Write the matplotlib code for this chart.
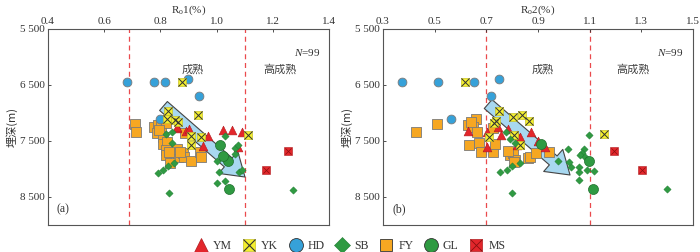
import matplotlib
matplotlib.use("Agg")
import matplotlib.pyplot as plt
from matplotlib.lines import Line2D
from matplotlib.patches import FancyArrowPatch
from matplotlib.legend_handler import HandlerTuple
from matplotlib.ticker import FuncFormatter

plt.rcParams['font.family'] = ['Liberation Serif', 'Noto Sans CJK SC', 'DejaVu Sans']
plt.rcParams['mathtext.fontset'] = 'custom'
plt.rcParams['mathtext.rm'] = 'Liberation Serif'
plt.rcParams['mathtext.it'] = 'Liberation Serif:italic'

# ---------------- data: panel (a) Ro1 ----------------
YM_a_x = [0.858, 0.89, 0.90, 0.97, 0.952, 1.023, 1.055, 1.09, 1.077, 0.86]
YM_a_y = [7270, 7320, 7290, 7410, 7590, 7310, 7300, 7340, 7610, 7250]
YK_a_x = [0.876, 0.934, 0.827, 0.823, 0.852, 0.863, 0.909, 0.944, 0.909, 1.112]
YK_a_y = [6450, 7030, 6960, 7110, 7125, 7160, 7410, 7430, 7570, 7390]
HD_a_x = [0.681, 0.777, 0.816, 0.898, 0.938, 0.80]
HD_a_y = [6450, 6450, 6450, 6390, 6700, 7110]
SB_a_x = [1.03, 0.82, 0.841, 0.841, 1.012, 1.023, 1.001, 1.066, 1.066, 1.077, 1.08, 1.09,
          0.848, 0.827, 0.809, 0.791, 1.008, 1.001, 1.03, 0.831, 1.272]
SB_a_y = [7410, 7375, 7340, 7536, 7554, 7786, 7857, 7625, 7732, 7571, 8054, 8018,
          7893, 7946, 8018, 8071, 8060, 8250, 8214, 8429, 8370]
FY_a_x = [0.71, 0.713, 0.777, 0.79, 0.802, 0.82, 0.788, 0.809, 0.81, 0.823, 0.82, 0.82,
          0.848, 0.863, 0.881, 0.884, 0.908, 0.94, 0.944, 0.887, 0.834, 0.86, 0.795, 0.83, 0.87]
FY_a_y = [7196, 7339, 7250, 7210, 7232, 7180, 7357, 7429, 7554, 7518, 7661, 7750,
          7696, 7786, 7714, 7786, 7857, 7696, 7786, 7357, 7893, 7650, 7300, 7690, 7700]
GL_a_x = [1.012, 1.041, 1.022, 1.044]
GL_a_y = [7571, 7857, 7768, 8357]
MS_a_x = [1.255, 1.176]
MS_a_y = [7679, 8018]
ARROW_a = [(0.811, 6875), (1.101, 8143)]

# ---------------- data: panel (b) Ro2 ----------------
YM_b_x = [0.629, 0.703, 0.703, 0.745, 0.757, 0.784, 0.818, 0.83, 0.873, 0.90, 0.927, 0.818]
YM_b_y = [7321, 7339, 7607, 7250, 7393, 7286, 7393, 7429, 7339, 7500, 7607, 7571]
YK_b_x = [0.617, 0.749, 0.803, 0.838, 0.865, 0.737, 0.73, 0.71, 0.807, 0.83, 1.156]
YK_b_y = [6450, 6964, 7071, 7036, 7143, 7143, 7179, 7429, 7393, 7571, 7375]
HD_b_x = [0.374, 0.513, 0.652, 0.749, 0.718, 0.563]
HD_b_y = [6450, 6450, 6450, 6390, 6700, 7110]
SB_b_x = [1.098, 1.018, 1.078, 1.07, 1.063, 1.082, 1.098, 1.059, 1.059, 1.028, 1.02, 0.978,
          1.09, 1.117, 1.059, 0.80, 1.40, 0.78, 0.753, 0.80, 0.83, 0.776, 0.811, 0.79]
SB_b_y = [7400, 7640, 7643, 7714, 7750, 7786, 7857, 7964, 8054, 7964, 7875, 7857,
          8018, 8036, 8196, 8429, 8357, 8018, 8054, 7946, 7893, 7339, 7536, 7460]
FY_b_x = [0.427, 0.508, 0.66, 0.629, 0.649, 0.665, 0.633, 0.672, 0.68, 0.726, 0.734, 0.726,
          0.792, 0.803, 0.811, 0.807, 0.861, 0.869, 0.892, 0.943, 0.64, 0.785]
FY_b_y = [7339, 7196, 7107, 7214, 7250, 7339, 7571, 7536, 7696, 7696, 7554, 7268,
          7750, 7714, 7839, 7875, 7804, 7786, 7714, 7696, 7160, 7680]
GL_b_x = [0.911, 1.098, 1.113]
GL_b_y = [7554, 7857, 8357]
MS_b_x = [1.194, 1.303]
MS_b_y = [7679, 8018]
ARROW_b = [(0.707, 6840), (1.024, 8107)]

xticks_a = [0.4, 0.6, 0.8, 1.0, 1.2, 1.4]
xticks_b = [0.3, 0.5, 0.7, 0.9, 1.1, 1.3, 1.5]
yticks = [5500, 6500, 7500, 8500]
bounds_a = [0.69, 1.1]
bounds_b = [0.7, 1.1]

C_RED = '#e3262b'
C_YEL = '#f4ef2e'
C_BLU = '#36a1d9'
C_GRN = '#2f9a42'
C_ORA = '#f6a722'
EDGE = '#7a7a7a'

fig = plt.figure(figsize=(7.0, 2.52), dpi=100)
ax_a = fig.add_axes([48/700, 1-225/252, 281/700, 196/252])
ax_b = fig.add_axes([383/700, 1-225/252, 310/700, 196/252])


def draw(ax, d, xlim, xticks, bounds, arrow, xlabel, tag):
    ax.set_xlim(*xlim)
    ax.set_ylim(9000, 5500)
    ax.xaxis.tick_top()
    ax.xaxis.set_label_position('top')
    ax.set_xticks(xticks)
    ax.set_xticklabels([f"{t:.1f}" for t in xticks])
    ax.set_yticks(yticks)
    ax.yaxis.set_major_formatter(FuncFormatter(lambda v, p: f"{int(v)//1000} {int(v)%1000:03d}"))
    ax.tick_params(direction='in', length=2.5, width=0.6, labelsize=8, pad=2, colors='#333333')
    for s in ax.spines.values():
        s.set_color('#555555')
        s.set_linewidth(0.8)
    ax.set_xlabel(xlabel, fontsize=8, labelpad=3, color='#333333')
    ax.set_ylabel('埋深(m)', fontsize=8, family=['Noto Sans CJK SC'], labelpad=2, color='#333333')
    for b in bounds:
        ax.axvline(b, color='#ea4a4d', lw=0.9, ls=(0, (4, 3)), zorder=1)
    arr = FancyArrowPatch(arrow[0], arrow[1],
                          arrowstyle='simple,head_width=21,head_length=16,tail_width=8.5',
                          mutation_scale=1, shrinkA=0, shrinkB=0,
                          facecolor='#a8d8f0', edgecolor='#444444', lw=0.8, zorder=2)
    ax.add_patch(arr)
    ax.scatter(d['FY'][0], d['FY'][1], marker='s', s=42, c=C_ORA, edgecolors=EDGE, linewidths=0.6, zorder=3)
    ax.scatter(d['HD'][0], d['HD'][1], marker='o', s=40, c=C_BLU, edgecolors=EDGE, linewidths=0.6, zorder=3)
    ax.scatter(d['YM'][0], d['YM'][1], marker='^', s=40, c=C_RED, edgecolors='#b01a1e', linewidths=0.4, zorder=4)
    ax.scatter(d['YK'][0], d['YK'][1], marker='s', s=40, c=C_YEL, edgecolors='#c8c22a', linewidths=0.5, zorder=4)
    ax.scatter(d['YK'][0], d['YK'][1], marker='x', s=34, c='#333333', linewidths=0.7, zorder=4)
    ax.scatter(d['SB'][0], d['SB'][1], marker='D', s=14, c=C_GRN, edgecolors='#1f7a30', linewidths=0.3, zorder=5)
    ax.scatter(d['GL'][0], d['GL'][1], marker='o', s=52, c=C_GRN, edgecolors='#1f6e2c', linewidths=0.5, zorder=5)
    ax.scatter(d['MS'][0], d['MS'][1], marker='s', s=40, c=C_RED, edgecolors='#b01a1e', linewidths=0.4, zorder=5)
    ax.scatter(d['MS'][0], d['MS'][1], marker='x', s=20, c='#8a1010', linewidths=0.5, zorder=5)
    ax.text(0.97, 0.88, r'$\it{N}$=99', transform=ax.transAxes, ha='right', va='center', fontsize=8, color='#333333')
    ax.text(tag[1], 6230, '成熟', ha='center', va='center', fontsize=8,
            family=['Noto Sans CJK SC'], color='#444444')
    ax.text(tag[2], 6230, '高成熟', ha='center', va='center', fontsize=8,
            family=['Noto Sans CJK SC'], color='#444444')
    ax.text(0.03, 0.05, tag[0], transform=ax.transAxes, ha='left', va='bottom', fontsize=8.5, color='#333333')


data_a = dict(YM=(YM_a_x, YM_a_y), YK=(YK_a_x, YK_a_y), HD=(HD_a_x, HD_a_y), SB=(SB_a_x, SB_a_y),
              FY=(FY_a_x, FY_a_y), GL=(GL_a_x, GL_a_y), MS=(MS_a_x, MS_a_y))
data_b = dict(YM=(YM_b_x, YM_b_y), YK=(YK_b_x, YK_b_y), HD=(HD_b_x, HD_b_y), SB=(SB_b_x, SB_b_y),
              FY=(FY_b_x, FY_b_y), GL=(GL_b_x, GL_b_y), MS=(MS_b_x, MS_b_y))

draw(ax_a, data_a, (0.4, 1.4), xticks_a, bounds_a, ARROW_a, r'R$_\mathrm{o}$1(%)', ['(a)', 0.916, 1.226])
draw(ax_b, data_b, (0.3, 1.5), xticks_b, bounds_b, ARROW_b, r'R$_\mathrm{o}$2(%)', ['(b)', 0.919, 1.268])

h_ym = Line2D([], [], ls='', marker='^', ms=10, mfc=C_RED, mec='#b01a1e', mew=0.5)
h_yk = (Line2D([], [], ls='', marker='s', ms=9, mfc=C_YEL, mec='#c8c22a', mew=0.5),
        Line2D([], [], ls='', marker='x', ms=9, mec='#333333', mew=0.8))
h_hd = Line2D([], [], ls='', marker='o', ms=10, mfc=C_BLU, mec='#333333', mew=0.6)
h_sb = Line2D([], [], ls='', marker='D', ms=8, mfc=C_GRN, mec='#1f7a30', mew=0.4)
h_fy = Line2D([], [], ls='', marker='s', ms=9, mfc=C_ORA, mec='#333333', mew=0.6)
h_gl = Line2D([], [], ls='', marker='o', ms=10, mfc=C_GRN, mec='#333333', mew=0.6)
h_ms = (Line2D([], [], ls='', marker='s', ms=9, mfc=C_RED, mec='#b01a1e', mew=0.5),
        Line2D([], [], ls='', marker='x', ms=8, mec='#8a1010', mew=0.6))
labels = ['YM', 'YK', 'HD', 'SB', 'FY', 'GL', 'MS']
fig.legend([h_ym, h_yk, h_hd, h_sb, h_fy, h_gl, h_ms], labels, ncol=7, loc='center',
           bbox_to_anchor=(0.5, 1-246/252), frameon=False, fontsize=8.5,
           handler_map={tuple: HandlerTuple(ndivide=1)},
           handlelength=1.0, handletextpad=0.5, columnspacing=1.0, labelcolor='#333333')

fig.savefig('out.png', dpi=100)
